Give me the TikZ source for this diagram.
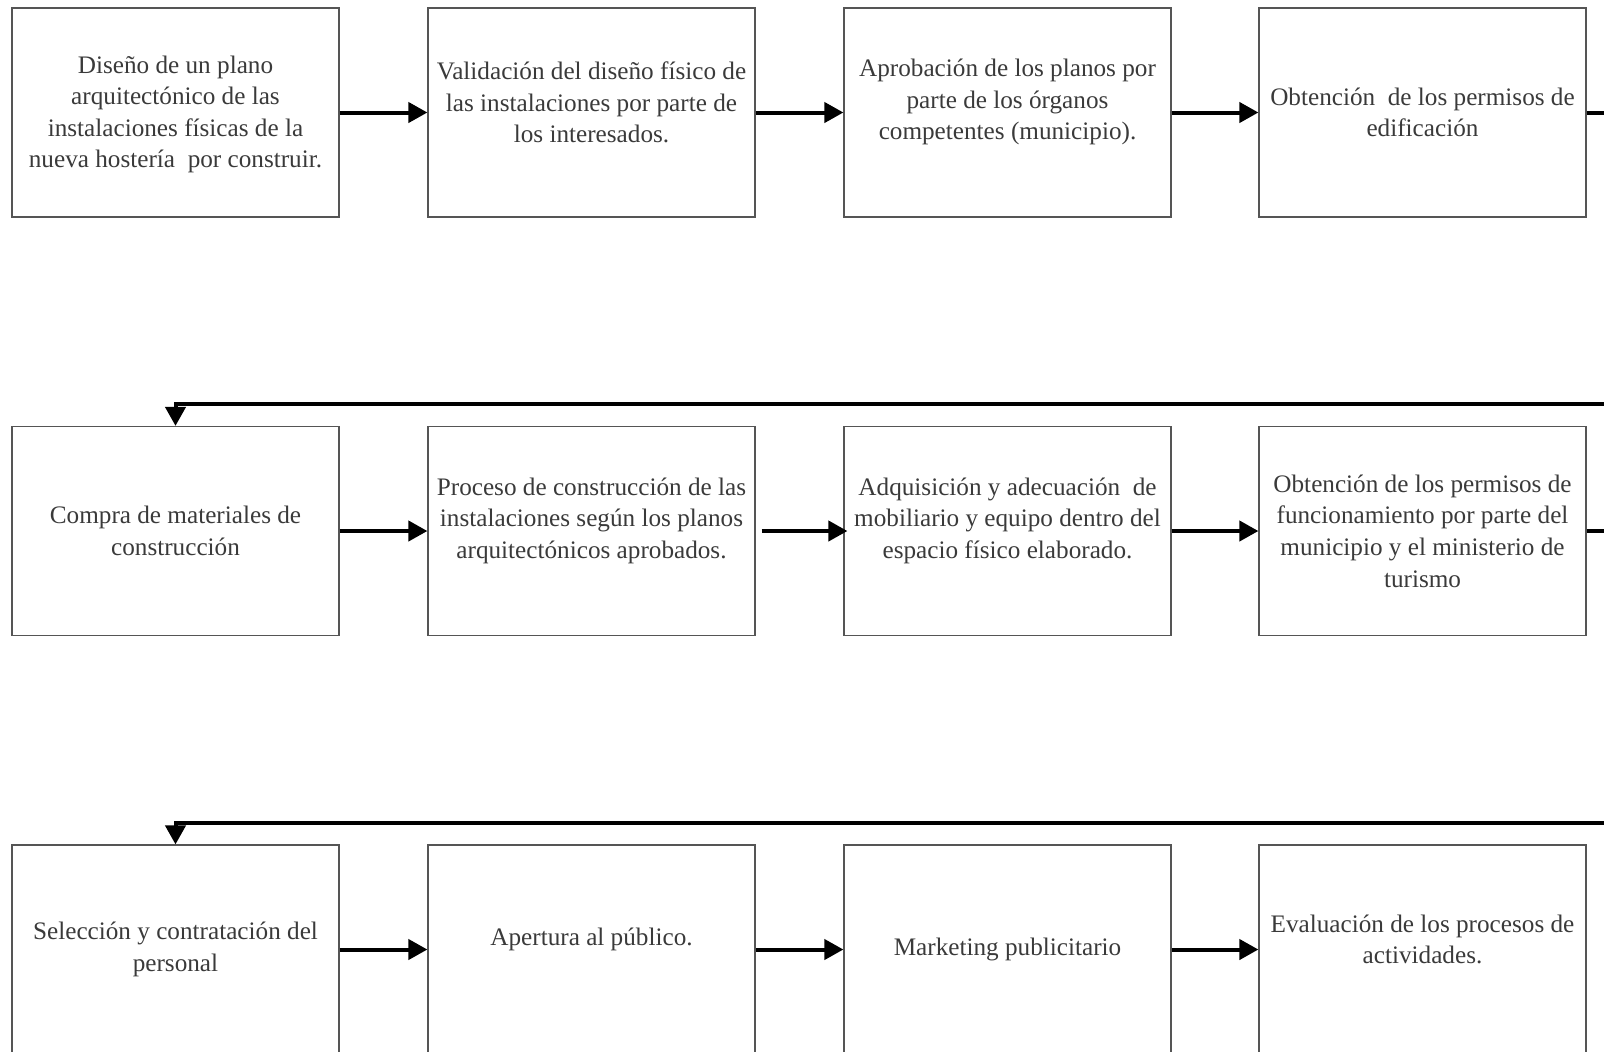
\documentclass[tikz,border=0pt]{standalone}
\usepackage{fontspec}
\setmainfont{Liberation Serif}
\usepackage{xcolor}
\usepackage{tikz}
\usetikzlibrary{arrows.meta}

\definecolor{boxgray}{HTML}{555555}
\definecolor{txtgray}{HTML}{3A3A3A}

\begin{document}
\begin{tikzpicture}[x=0.5pt,y=-0.5pt,
      stepbox/.style={rectangle,draw=boxgray,line width=0.6pt,minimum width=163.5pt,minimum height=104.5pt,inner sep=0pt},
      steptext/.style={align=center,text=txtgray,inner sep=0pt,font=\fontsize{12.6}{15.8}\selectfont},
      flow/.style={line width=2pt,-{Triangle[length=9.5pt,width=10pt]}}]
    \useasboundingbox (0,0) rectangle (1604,1051);
    \clip (0,0) rectangle (1604,1051);
    % three rows of four steps
    \foreach \n/\x/\y/\dy/\txt in {
      1/175.5/112.5/-1/{Diseño de un plano\\arquitectónico de las\\instalaciones físicas de la\\nueva hostería~ por construir.},
      2/591.5/112.5/5.1/{Validación del diseño físico de\\las instalaciones por parte de\\los interesados.},
      3/1007.5/112.5/5.1/{Aprobación de los planos por\\parte de los órganos\\competentes (municipio).},
      4/1422.5/112.5/0/{Obtención~ de los permisos de\\edificación},
      5/175.5/531/0/{Compra de materiales de\\construcción},
      6/591.5/531/5.1/{Proceso de construcción de las\\instalaciones según los planos\\arquitectónicos aprobados.},
      7/1007.5/531/5.1/{Adquisición y adecuación~ de\\mobiliario y equipo dentro del\\espacio físico elaborado.},
      8/1422.5/531/0/{Obtención de los permisos de\\funcionamiento por parte del\\municipio y el ministerio de\\turismo},
      9/175.5/949.5/0/{Selección y contratación del\\personal},
      10/591.5/949.5/5.1/{Apertura al público.},
      11/1007.5/949.5/0/{Marketing publicitario},
      12/1422.5/949.5/5.1/{Evaluación de los procesos de\\actividades.}} {
      \node[stepbox] (b\n) at (\x,\y) {};
      \node[steptext] (t\n) at ([yshift=\dy pt]b\n.center) {\txt};
    }
    % arrows inside each row
    \foreach \a/\b in {1/2,2/3,3/4,5/6,7/8,9/10,10/11,11/12}
      \draw[flow] (b\a) -- (b\b);
    \draw[flow,shorten <=3pt,shorten >=-2pt] (b6) -- (b7);
    % return lines to the next row
    \coordinate (r1) at (1640,404);
    \coordinate (r2) at (1640,823);
    \draw[flow] (b4.east) -| (r1) -| (b5.north);
    \draw[flow] (b8.east) -| (r2) -| (b9.north);
  \end{tikzpicture}
\end{document}
